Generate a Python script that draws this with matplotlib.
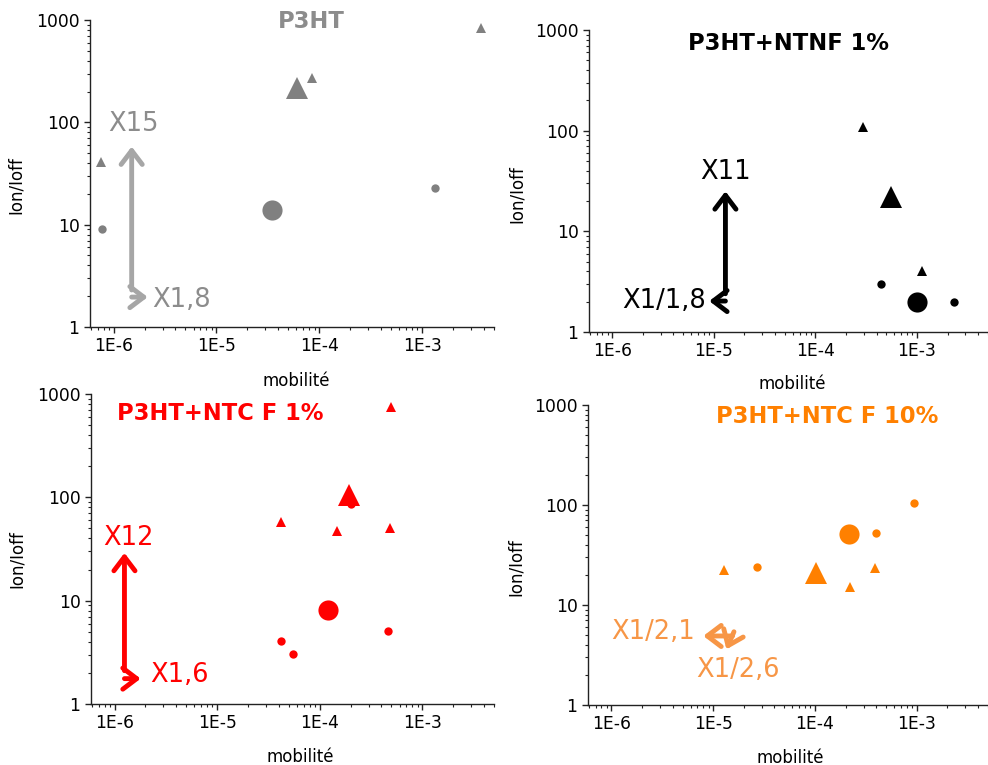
import numpy as np
import matplotlib
matplotlib.use("Agg")
import matplotlib.pyplot as plt
from matplotlib.ticker import LogLocator, FuncFormatter, NullFormatter

# ---- data: mobility (x) vs Ion/Ioff (y) ----
# P3HT
p3ht_circ_x = [7.7e-7, 1.34e-3]
p3ht_circ_y = [9.1, 23]
p3ht_tri_x = [7.5e-7, 8.5e-5, 3.7e-3]
p3ht_tri_y = [41, 270, 830]
p3ht_bigcirc = (3.5e-5, 14)
p3ht_bigtri = (6.1e-5, 215)

# P3HT+NTNF 1%
ntnf_circ_x = [4.4e-4, 2.3e-3]
ntnf_circ_y = [3.0, 2.0]
ntnf_tri_x = [2.94e-4, 1.11e-3]
ntnf_tri_y = [109, 4.0]
ntnf_bigcirc = (1.0e-3, 2.0)
ntnf_bigtri = (5.6e-4, 22)

# P3HT+NTC F 1%
ntc1_circ_x = [2.0e-4, 4.2e-5, 5.5e-5, 4.6e-4]
ntc1_circ_y = [87, 4.07, 3.03, 5.1]
ntc1_tri_x = [5.0e-4, 4.2e-5, 1.46e-4, 4.85e-4]
ntc1_tri_y = [750, 58, 47, 50]
ntc1_bigcirc = (1.21e-4, 8.2)
ntc1_bigtri = (1.95e-4, 105)

# P3HT+NTC F 10%
ntc10_circ_x = [9.3e-4, 4.0e-4, 2.67e-5]
ntc10_circ_y = [105, 52, 24]
ntc10_tri_x = [1.28e-5, 3.9e-4, 2.19e-4]
ntc10_tri_y = [22.2, 23.4, 15.1]
ntc10_bigcirc = (2.14e-4, 51)
ntc10_bigtri = (1.02e-4, 21)

titles = ["P3HT", "P3HT+NTNF 1%", "P3HT+NTC F 1%", "P3HT+NTC F 10%"]

W, H = 988, 765
fig = plt.figure(figsize=(W / 100, H / 100), dpi=100)


def make_axes(l, t, r, b):
    ax = fig.add_axes([l / W, 1 - b / H, (r - l) / W, (b - t) / H])
    ax.set_xscale("log")
    ax.set_yscale("log")
    ax.set_xlim(5.9e-7, 5e-3)
    ax.set_ylim(1, 1000)
    for s in ["top", "right"]:
        ax.spines[s].set_visible(False)
    for s in ["left", "bottom"]:
        ax.spines[s].set_linewidth(1.0)
        ax.spines[s].set_color("#222222")
    ax.xaxis.set_major_locator(LogLocator(base=10, numticks=10))
    ax.xaxis.set_minor_locator(LogLocator(base=10, subs=np.arange(2, 10), numticks=20))
    ax.yaxis.set_major_locator(LogLocator(base=10, numticks=10))
    ax.yaxis.set_minor_locator(LogLocator(base=10, subs=np.arange(2, 10), numticks=20))
    ax.xaxis.set_major_formatter(FuncFormatter(lambda v, p: "1E%d" % round(np.log10(v))))
    ax.yaxis.set_major_formatter(FuncFormatter(lambda v, p: "%d" % round(v)))
    ax.xaxis.set_minor_formatter(NullFormatter())
    ax.yaxis.set_minor_formatter(NullFormatter())
    ax.tick_params(which="major", length=4, width=1, labelsize=12.3, color="#222222", pad=3.5)
    ax.tick_params(which="minor", length=2.5, width=0.8, color="#222222")
    ax.set_xlabel("mobilité", fontsize=12)
    ax.set_ylabel("Ion/Ioff", fontsize=12)
    return ax


def draw_points(ax, cx, cy, tx, ty, bc, bt, col):
    ax.plot(cx, cy, "o", ms=6, color=col, mew=0, clip_on=False)
    ax.plot(tx, ty, "^", ms=6.5, color=col, mew=0, clip_on=False)
    ax.plot([bc[0]], [bc[1]], "o", ms=14.5, color=col, mew=0)
    ax.plot([bt[0]], [bt[1]], "^", ms=16.5, color=col, mew=0)


def arrow(ax, start, end, col):
    ax.annotate("", xy=end, xytext=start,
                arrowprops=dict(arrowstyle="->,head_length=0.5,head_width=0.38",
                                lw=3.5, color=col, mutation_scale=20,
                                shrinkA=0, shrinkB=0, capstyle="round"))


# ---- top left: P3HT ----
ax1 = make_axes(90, 20, 494, 327)
grey = "#808080"
draw_points(ax1, p3ht_circ_x, p3ht_circ_y, p3ht_tri_x, p3ht_tri_y,
            p3ht_bigcirc, p3ht_bigtri, grey)
arrow(ax1, (1.5e-6, 2.3), (1.5e-6, 58), "#a6a6a6")
arrow(ax1, (1.5e-6, 1.96), (2.15e-6, 1.96), "#a6a6a6")
ax1.text(1.55e-6, 96, "X15", color="#8c8c8c", fontsize=18.5, ha="center", va="center")
ax1.text(2.4e-6, 1.85, "X1,8", color="#8c8c8c", fontsize=18.5, ha="left", va="center")
ax1.text(0.547, 0.995, titles[0], transform=ax1.transAxes, color="#8c8c8c",
         fontsize=16.3, fontweight="bold", ha="center", va="center")
ax1.xaxis.set_label_coords(0.51, -0.147)
ax1.yaxis.set_label_coords(-0.161, 0.463)

# ---- top right: P3HT+NTNF 1% ----
ax2 = make_axes(589, 30, 988, 332)
draw_points(ax2, ntnf_circ_x, ntnf_circ_y, ntnf_tri_x, ntnf_tri_y,
            ntnf_bigcirc, ntnf_bigtri, "black")
arrow(ax2, (1.3e-5, 2.4), (1.3e-5, 25), "black")
arrow(ax2, (1.3e-5, 2.03), (9.0e-6, 2.03), "black")
ax2.text(1.3e-5, 39, "X11", color="black", fontsize=18.5, ha="center", va="center")
ax2.text(8.4e-6, 2.03, "X1/1,8", color="black", fontsize=18.5, ha="right", va="center")
ax2.text(0.501, 0.954, titles[1], transform=ax2.transAxes, color="black",
         fontsize=16.3, fontweight="bold", ha="center", va="center")
ax2.xaxis.set_label_coords(0.51, -0.142)
ax2.yaxis.set_label_coords(-0.158, 0.457)

# ---- bottom left: P3HT+NTC F 1% ----
ax3 = make_axes(91, 394, 494, 704)
red = "#ff0000"
draw_points(ax3, ntc1_circ_x, ntc1_circ_y, ntc1_tri_x, ntc1_tri_y,
            ntc1_bigcirc, ntc1_bigtri, red)
arrow(ax3, (1.25e-6, 2.1), (1.25e-6, 29), red)
arrow(ax3, (1.25e-6, 1.76), (1.8e-6, 1.76), red)
ax3.text(1.37e-6, 40, "X12", color=red, fontsize=18.5, ha="center", va="center")
ax3.text(2.25e-6, 1.9, "X1,6", color=red, fontsize=18.5, ha="left", va="center")
ax3.text(0.32, 0.936, titles[2], transform=ax3.transAxes, color=red,
         fontsize=16.3, fontweight="bold", ha="center", va="center")
ax3.xaxis.set_label_coords(0.52, -0.142)
ax3.yaxis.set_label_coords(-0.161, 0.466)

# ---- bottom right: P3HT+NTC F 10% ----
ax4 = make_axes(588, 405, 988, 705)
orange = "#ff8000"
light_orange = "#f79646"
draw_points(ax4, ntc10_circ_x, ntc10_circ_y, ntc10_tri_x, ntc10_tri_y,
            ntc10_bigcirc, ntc10_bigtri, orange)
arrow(ax4, (1.55e-5, 4.9), (8.0e-6, 4.9), light_orange)
arrow(ax4, (1.6e-5, 5.4), (1.35e-5, 3.6), light_orange)
ax4.text(6.6e-6, 5.4, "X1/2,1", color=light_orange, fontsize=18.5, ha="right", va="center")
ax4.text(1.75e-5, 2.22, "X1/2,6", color=light_orange, fontsize=18.5, ha="center", va="center")
ax4.text(0.597, 0.962, titles[3], transform=ax4.transAxes, color=orange,
         fontsize=16.3, fontweight="bold", ha="center", va="center")
ax4.xaxis.set_label_coords(0.505, -0.146)
ax4.yaxis.set_label_coords(-0.158, 0.46)

fig.savefig("out.png", dpi=100)
